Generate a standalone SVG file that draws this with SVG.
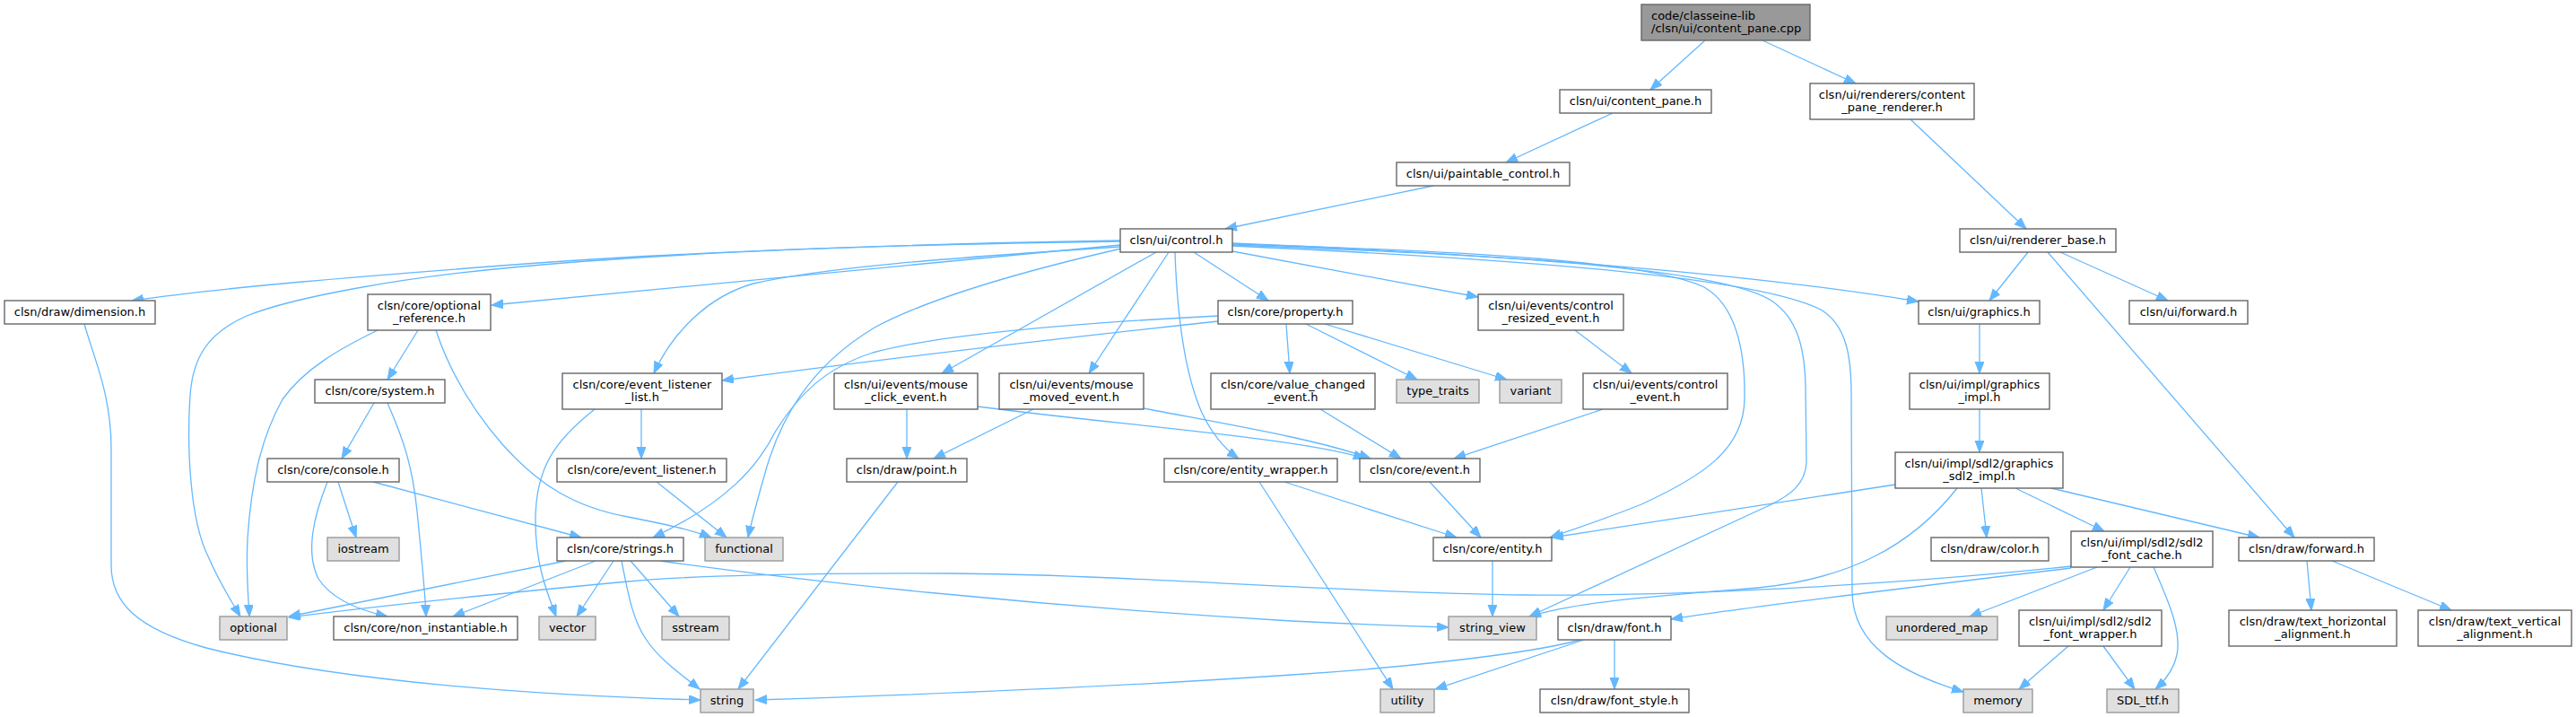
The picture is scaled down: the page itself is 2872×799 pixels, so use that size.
<svg xmlns="http://www.w3.org/2000/svg" width="2872" height="799" viewBox="0 0 2872 799">
<style>
rect{stroke-width:1.4}
.n rect{fill:#ffffff;stroke:#666666}
.g rect{fill:#e0e0e0;stroke:#999999}
.r rect{fill:#999999;stroke:#666666}
text{font-family:"DejaVu Sans",Verdana,sans-serif;font-size:13px;text-anchor:middle;fill:#000000}
.r text{text-anchor:start}
#edges path{fill:none;stroke:#63b8ff;stroke-width:1.3;marker-end:url(#arr)}
</style>
<defs>
<marker id="arr" markerWidth="14" markerHeight="12" refX="13" refY="5" orient="auto" markerUnits="userSpaceOnUse">
<path d="M0,0 L13,5 L0,10 z" fill="#63b8ff" stroke="#63b8ff" stroke-width="1"/>
</marker>
</defs>
<rect width="2872" height="799" fill="#ffffff"/>
<g id="edges">
<path d="M1901,45 L1840,100"/>
<path d="M1965,45 L2069,93"/>
<path d="M1798,126 L1679,181"/>
<path d="M1598,207 L1366,255"/>
<path d="M2130,133 L2259,255"/>
<path d="M2261,281 L2218,335"/>
<path d="M2283,281 L2558,599"/>
<path d="M2297,281 L2417,335"/>
<path d="M2207,361 L2207,416"/>
<path d="M2207,456 L2207,504"/>
<path d="M2209,544 L2215,599"/>
<path d="M2247,544 L2346,592"/>
<path d="M2287,544 L2519,599"/>
<path d="M2113,540 L1730,599"/>
<path d="M2182,544 C2130,610 2060,645 1960,655 C1850,664 1760,670 1705,687"/>
<path d="M2338,632 L2196,687"/>
<path d="M2375,632 L2345,680"/>
<path d="M2401,632 C2420,675 2432,705 2427,730 C2423,748 2412,760 2403,768"/>
<path d="M2309,633 C2150,652 1950,676 1863,690"/>
<path d="M2309,631 C2150,648 1900,665 1700,663 C1500,661 1250,640 1060,639 C900,638 760,642 700,648 C550,662 400,678 322,688"/>
<path d="M2306,720 L2251,768"/>
<path d="M2345,720 L2380,768"/>
<path d="M2572,625 L2577,680"/>
<path d="M2600,625 L2733,680"/>
<path d="M1766,713 L1600,768"/>
<path d="M1800,713 L1800,768"/>
<path d="M1762,713 C1700,730 1550,745 1440,752 C1250,765 1000,775 842,780"/>
<path d="M1664,625 L1664,687"/>
<path d="M1594,537 L1651,599"/>
<path d="M1432,537 L1624,599"/>
<path d="M1404,537 L1553,768"/>
<path d="M1472,456 L1562,511"/>
<path d="M1787,456 L1621,511"/>
<path d="M1090,453 C1250,474 1450,488 1522,511"/>
<path d="M1275,455 C1380,475 1470,490 1528,511"/>
<path d="M1011,456 L1011,511"/>
<path d="M1152,456 L1041,511"/>
<path d="M1001,537 L823,768"/>
<path d="M715,456 L715,511"/>
<path d="M663,456 C620,490 597,520 597,580 C597,630 610,660 620,687"/>
<path d="M732,537 L810,599"/>
<path d="M466,368 L432,423"/>
<path d="M421,368 C380,388 340,410 315,445 C290,490 280,540 276,600 C274,640 277,665 278,687"/>
<path d="M486,368 C500,410 525,455 560,495 C600,540 640,565 700,576 C740,584 770,590 793,599"/>
<path d="M417,449 L381,511"/>
<path d="M432,449 C450,490 460,520 465,570 C470,620 474,660 475,687"/>
<path d="M377,537 L397,599"/>
<path d="M365,537 C350,575 340,615 355,645 C370,668 400,680 432,687"/>
<path d="M416,537 L648,599"/>
<path d="M631,625 L322,687"/>
<path d="M664,625 L505,687"/>
<path d="M684,625 L643,687"/>
<path d="M703,625 L757,687"/>
<path d="M693,625 C700,660 705,690 720,712 C735,735 760,752 780,768"/>
<path d="M736,625 C900,648 1150,675 1440,692 C1520,696 1580,698 1615,699"/>
<path d="M94,361 C105,400 124,440 124,500 L124,630 C124,670 150,700 230,722 C380,760 600,775 781,780"/>
<path d="M1249,268 C1000,272 750,282 600,293 C400,308 250,320 147,335"/>
<path d="M1249,269 C950,273 720,283 551,300 C450,310 330,330 275,352 C230,372 215,400 212,440 C208,500 212,580 232,620 C245,650 258,670 268,687"/>
<path d="M1249,273 L548,340"/>
<path d="M1249,275 C1050,288 920,298 840,316 C790,330 750,370 729,416"/>
<path d="M1250,277 C1150,300 1040,330 975,365 C900,410 870,470 855,520 C845,555 838,580 834,599"/>
<path d="M1358,352 C1200,360 1050,372 973,393 C920,410 890,440 865,480 C845,520 810,560 728,599"/>
<path d="M1358,358 C1200,375 1000,398 805,424"/>
<path d="M1434,361 L1438,416"/>
<path d="M1456,361 L1580,423"/>
<path d="M1477,361 L1680,423"/>
<path d="M1331,281 L1414,335"/>
<path d="M1289,281 L1050,416"/>
<path d="M1303,281 L1214,416"/>
<path d="M1310,281 C1312,340 1318,410 1340,460 C1352,485 1365,500 1381,511"/>
<path d="M1374,280 L1648,331"/>
<path d="M1374,271 C1700,285 1950,305 2139,336"/>
<path d="M1374,272 C1650,280 1840,292 1900,320 C1935,340 1946,390 1945,445 C1944,500 1900,530 1830,562 C1790,578 1760,588 1728,599"/>
<path d="M1374,273 C1700,285 1920,300 1975,335 C2005,355 2012,390 2013,430 L2014,515 C2013,540 1995,552 1975,562 L1705,687"/>
<path d="M1374,274 C1720,290 1960,310 2030,345 C2058,362 2064,395 2064,440 L2065,660 C2066,720 2120,750 2189,771"/>
<path d="M1756,368 L1819,416"/>
</g>
<g id="n_root" class="r"><rect x="1830" y="5" width="188" height="40"/><text x="1841" y="21.5">code/classeine-lib</text><text x="1841" y="36">/clsn/ui/content_pane.cpp</text></g>
<g id="n_content_pane" class="n"><rect x="1739" y="100" width="169" height="26"/><text x="1823.5" y="117">clsn/ui/content_pane.h</text></g>
<g id="n_content_pane_renderer" class="n"><rect x="2018" y="93" width="183" height="40"/><text x="2109.5" y="109.5">clsn/ui/renderers/content</text><text x="2109.5" y="124">_pane_renderer.h</text></g>
<g id="n_paintable_control" class="n"><rect x="1557" y="181" width="193" height="26"/><text x="1653.5" y="198">clsn/ui/paintable_control.h</text></g>
<g id="n_control" class="n"><rect x="1249" y="255" width="125" height="26"/><text x="1311.5" y="272">clsn/ui/control.h</text></g>
<g id="n_renderer_base" class="n"><rect x="2185" y="255" width="174" height="26"/><text x="2272" y="272">clsn/ui/renderer_base.h</text></g>
<g id="n_dimension" class="n"><rect x="5" y="335" width="168" height="26"/><text x="89" y="352">clsn/draw/dimension.h</text></g>
<g id="n_optional_reference" class="n"><rect x="410" y="328" width="137" height="40"/><text x="478.5" y="344.5">clsn/core/optional</text><text x="478.5" y="359">_reference.h</text></g>
<g id="n_property" class="n"><rect x="1358" y="335" width="150" height="26"/><text x="1433" y="352">clsn/core/property.h</text></g>
<g id="n_control_resized_event" class="n"><rect x="1648" y="328" width="162" height="40"/><text x="1729" y="344.5">clsn/ui/events/control</text><text x="1729" y="359">_resized_event.h</text></g>
<g id="n_graphics" class="n"><rect x="2139" y="335" width="135" height="26"/><text x="2206.5" y="352">clsn/ui/graphics.h</text></g>
<g id="n_ui_forward" class="n"><rect x="2374" y="335" width="132" height="26"/><text x="2440" y="352">clsn/ui/forward.h</text></g>
<g id="n_system" class="n"><rect x="351" y="423" width="145" height="26"/><text x="423.5" y="440">clsn/core/system.h</text></g>
<g id="n_event_listener_list" class="n"><rect x="627" y="416" width="178" height="40"/><text x="716" y="432.5">clsn/core/event_listener</text><text x="716" y="447">_list.h</text></g>
<g id="n_mouse_click_event" class="n"><rect x="930" y="416" width="160" height="40"/><text x="1010" y="432.5">clsn/ui/events/mouse</text><text x="1010" y="447">_click_event.h</text></g>
<g id="n_mouse_moved_event" class="n"><rect x="1114" y="416" width="161" height="40"/><text x="1194.5" y="432.5">clsn/ui/events/mouse</text><text x="1194.5" y="447">_moved_event.h</text></g>
<g id="n_value_changed_event" class="n"><rect x="1350" y="416" width="183" height="40"/><text x="1441.5" y="432.5">clsn/core/value_changed</text><text x="1441.5" y="447">_event.h</text></g>
<g id="n_type_traits" class="g"><rect x="1557" y="423" width="92" height="26"/><text x="1603" y="440">type_traits</text></g>
<g id="n_variant" class="g"><rect x="1672" y="423" width="69" height="26"/><text x="1706.5" y="440">variant</text></g>
<g id="n_control_event" class="n"><rect x="1765" y="416" width="161" height="40"/><text x="1845.5" y="432.5">clsn/ui/events/control</text><text x="1845.5" y="447">_event.h</text></g>
<g id="n_graphics_impl" class="n"><rect x="2129" y="416" width="156" height="40"/><text x="2207" y="432.5">clsn/ui/impl/graphics</text><text x="2207" y="447">_impl.h</text></g>
<g id="n_console" class="n"><rect x="298" y="511" width="147" height="26"/><text x="371.5" y="528">clsn/core/console.h</text></g>
<g id="n_event_listener" class="n"><rect x="621" y="511" width="189" height="26"/><text x="715.5" y="528">clsn/core/event_listener.h</text></g>
<g id="n_point" class="n"><rect x="944" y="511" width="134" height="26"/><text x="1011" y="528">clsn/draw/point.h</text></g>
<g id="n_entity_wrapper" class="n"><rect x="1298" y="511" width="193" height="26"/><text x="1394.5" y="528">clsn/core/entity_wrapper.h</text></g>
<g id="n_event" class="n"><rect x="1516" y="511" width="134" height="26"/><text x="1583" y="528">clsn/core/event.h</text></g>
<g id="n_graphics_sdl2_impl" class="n"><rect x="2113" y="504" width="187" height="40"/><text x="2206.5" y="520.5">clsn/ui/impl/sdl2/graphics</text><text x="2206.5" y="535">_sdl2_impl.h</text></g>
<g id="n_iostream" class="g"><rect x="365" y="599" width="80" height="26"/><text x="405" y="616">iostream</text></g>
<g id="n_strings" class="n"><rect x="621" y="599" width="141" height="26"/><text x="691.5" y="616">clsn/core/strings.h</text></g>
<g id="n_functional" class="g"><rect x="786" y="599" width="87" height="26"/><text x="829.5" y="616">functional</text></g>
<g id="n_entity" class="n"><rect x="1598" y="599" width="132" height="26"/><text x="1664" y="616">clsn/core/entity.h</text></g>
<g id="n_color" class="n"><rect x="2153" y="599" width="131" height="26"/><text x="2218.5" y="616">clsn/draw/color.h</text></g>
<g id="n_sdl2_font_cache" class="n"><rect x="2309" y="592" width="158" height="40"/><text x="2388" y="608.5">clsn/ui/impl/sdl2/sdl2</text><text x="2388" y="623">_font_cache.h</text></g>
<g id="n_draw_forward" class="n"><rect x="2496" y="599" width="151" height="26"/><text x="2571.5" y="616">clsn/draw/forward.h</text></g>
<g id="n_optional" class="g"><rect x="245" y="687" width="75" height="26"/><text x="282.5" y="704">optional</text></g>
<g id="n_non_instantiable" class="n"><rect x="372" y="687" width="205" height="26"/><text x="474.5" y="704">clsn/core/non_instantiable.h</text></g>
<g id="n_vector" class="g"><rect x="601" y="687" width="63" height="26"/><text x="632.5" y="704">vector</text></g>
<g id="n_sstream" class="g"><rect x="738" y="687" width="75" height="26"/><text x="775.5" y="704">sstream</text></g>
<g id="n_string_view" class="g"><rect x="1615" y="687" width="98" height="26"/><text x="1664" y="704">string_view</text></g>
<g id="n_unordered_map" class="g"><rect x="2103" y="687" width="124" height="26"/><text x="2165" y="704">unordered_map</text></g>
<g id="n_font" class="n"><rect x="1737" y="687" width="126" height="26"/><text x="1800" y="704">clsn/draw/font.h</text></g>
<g id="n_sdl2_font_wrapper" class="n"><rect x="2251" y="680" width="159" height="40"/><text x="2330.5" y="696.5">clsn/ui/impl/sdl2/sdl2</text><text x="2330.5" y="711">_font_wrapper.h</text></g>
<g id="n_text_horizontal_alignment" class="n"><rect x="2485" y="680" width="187" height="40"/><text x="2578.5" y="696.5">clsn/draw/text_horizontal</text><text x="2578.5" y="711">_alignment.h</text></g>
<g id="n_text_vertical_alignment" class="n"><rect x="2696" y="680" width="171" height="40"/><text x="2781.5" y="696.5">clsn/draw/text_vertical</text><text x="2781.5" y="711">_alignment.h</text></g>
<g id="n_string" class="g"><rect x="781" y="768" width="59" height="26"/><text x="810.5" y="785">string</text></g>
<g id="n_utility" class="g"><rect x="1539" y="768" width="60" height="26"/><text x="1569" y="785">utility</text></g>
<g id="n_font_style" class="n"><rect x="1717" y="768" width="166" height="26"/><text x="1800" y="785">clsn/draw/font_style.h</text></g>
<g id="n_memory" class="g"><rect x="2189" y="768" width="77" height="26"/><text x="2227.5" y="785">memory</text></g>
<g id="n_sdl_ttf" class="g"><rect x="2349" y="768" width="80" height="26"/><text x="2389" y="785">SDL_ttf.h</text></g>
</svg>
